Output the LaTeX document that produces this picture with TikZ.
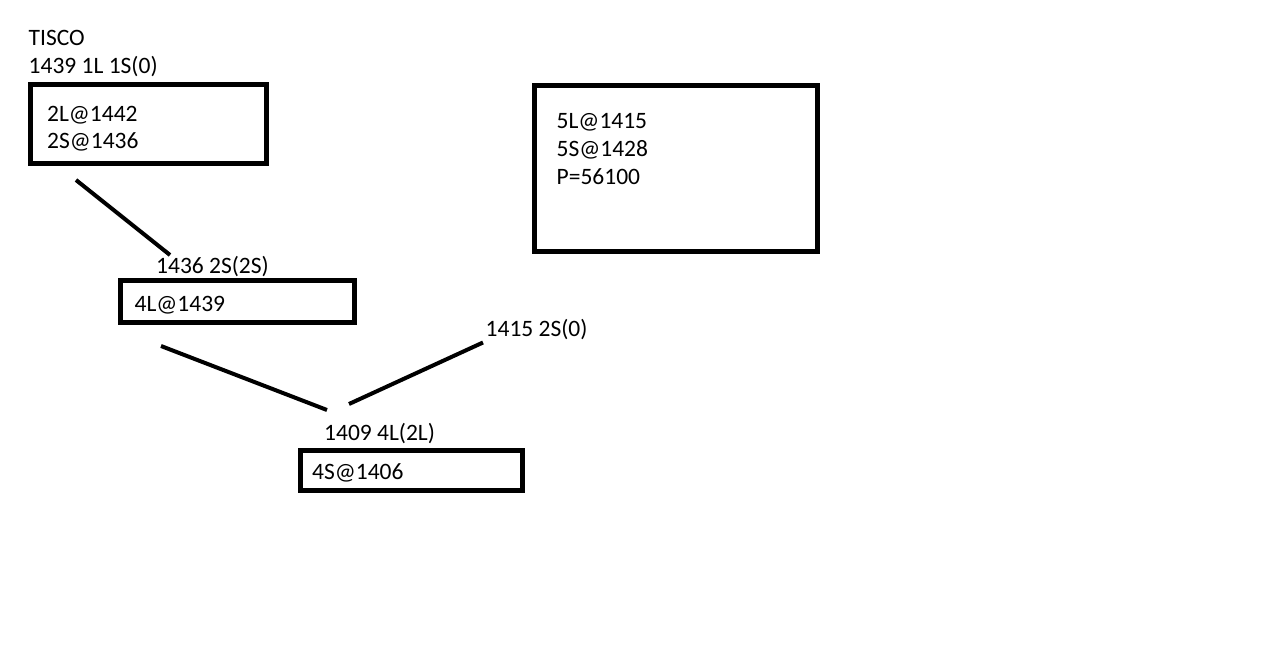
\documentclass[tikz,border=0pt]{standalone}
\usepackage{fontspec}
\setmainfont{Carlito}
\begin{document}
\begin{tikzpicture}[x=1pt,y=-1pt,
  box/.style={draw=black,line width=5pt,inner sep=0pt},
  lbl/.style={anchor=base west,inner sep=0pt,font=\fontsize{23.5}{28}\selectfont},
  link/.style={draw=black,line width=4pt}]
\useasboundingbox[fill=white] (0,0) rectangle (1274,655);
% boxes
\node[box,minimum width=236pt,minimum height=79pt] (b1) at (148,124.5) {};
\node[box,minimum width=234pt,minimum height=42pt] (b2) at (237,301) {};
\node[box,minimum width=222pt,minimum height=40pt] (b3) at (411,470) {};
\node[box,minimum width=282.5pt,minimum height=165.7pt] (b4) at (675.75,168.15) {};
% texts
\node[lbl] (tisco) at (28.5,45.7) {TISCO};
\node[lbl] (t1) at (28.5,73.3) {1439 1L 1S(0)};
\node[lbl] (t2) at (47,121.7) {2L@1442};
\node[lbl] (t3) at (47,148.3) {2S@1436};
\node[lbl] (t4) at (156,273.3) {1436 2S(2S)};
\node[lbl] (t5) at (134.5,311.7) {4L@1439};
\node[lbl] (t6) at (485.5,336.7) {1415 2S(0)};
\node[lbl] (t7) at (324,440) {1409 4L(2L)};
\node[lbl] (t8) at (312,479.3) {4S@1406};
\node[lbl] (t9) at (556.5,128.3) {5L@1415};
\node[lbl] (t10) at (556.5,156.7) {5S@1428};
\node[lbl] (t11) at (556.5,185) {P=56100};
% connector ends
\coordinate (a1) at (76,180);
\coordinate (a2) at (170,255);
\coordinate (c1) at (161,346);
\coordinate (c2) at (327,410);
\coordinate (d1) at (349,404);
\coordinate (d2) at (483,342.5);
\draw[link] (a1) -- (a2);
\draw[link] (c1) -- (c2);
\draw[link] (d1) -- (d2);
\end{tikzpicture}
\end{document}
